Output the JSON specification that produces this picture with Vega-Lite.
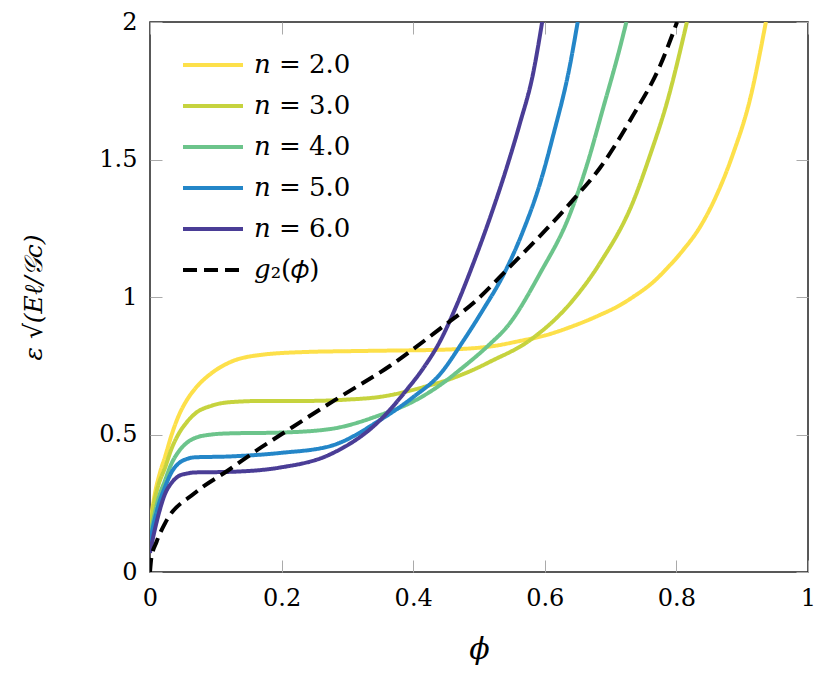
{
  "$schema": "https://vega.github.io/schema/vega-lite/v6.json",
  "width": 658,
  "height": 550,
  "autosize": {"type": "none"},
  "padding": {"left": 150, "top": 22, "right": 23, "bottom": 104},
  "config": {
    "font": "DejaVu Serif",
    "view": {"stroke": "#222222", "strokeWidth": 1.5}
  },
  "data": {
    "values": [
      {"s": "n2", "phi": 0, "v": 0.17},
      {"s": "n2", "phi": 0.0076, "v": 0.287},
      {"s": "n2", "phi": 0.015, "v": 0.36},
      {"s": "n2", "phi": 0.023, "v": 0.42},
      {"s": "n2", "phi": 0.033, "v": 0.5},
      {"s": "n2", "phi": 0.043, "v": 0.565},
      {"s": "n2", "phi": 0.056, "v": 0.625},
      {"s": "n2", "phi": 0.068, "v": 0.665},
      {"s": "n2", "phi": 0.094, "v": 0.724},
      {"s": "n2", "phi": 0.119, "v": 0.76},
      {"s": "n2", "phi": 0.17, "v": 0.79},
      {"s": "n2", "phi": 0.236, "v": 0.8},
      {"s": "n2", "phi": 0.3, "v": 0.803},
      {"s": "n2", "phi": 0.36, "v": 0.805},
      {"s": "n2", "phi": 0.44, "v": 0.808},
      {"s": "n2", "phi": 0.517, "v": 0.82},
      {"s": "n2", "phi": 0.562, "v": 0.84},
      {"s": "n2", "phi": 0.6, "v": 0.86},
      {"s": "n2", "phi": 0.638, "v": 0.89},
      {"s": "n2", "phi": 0.684, "v": 0.935},
      {"s": "n2", "phi": 0.714, "v": 0.97},
      {"s": "n2", "phi": 0.734, "v": 1.0},
      {"s": "n2", "phi": 0.765, "v": 1.055},
      {"s": "n2", "phi": 0.786, "v": 1.105},
      {"s": "n2", "phi": 0.81, "v": 1.17},
      {"s": "n2", "phi": 0.836, "v": 1.255},
      {"s": "n2", "phi": 0.861, "v": 1.37},
      {"s": "n2", "phi": 0.886, "v": 1.52},
      {"s": "n2", "phi": 0.912, "v": 1.72},
      {"s": "n2", "phi": 0.936, "v": 2.0},

      {"s": "n3", "phi": 0, "v": 0.15},
      {"s": "n3", "phi": 0.006, "v": 0.25},
      {"s": "n3", "phi": 0.012, "v": 0.31},
      {"s": "n3", "phi": 0.023, "v": 0.38},
      {"s": "n3", "phi": 0.033, "v": 0.45},
      {"s": "n3", "phi": 0.043, "v": 0.5},
      {"s": "n3", "phi": 0.056, "v": 0.545},
      {"s": "n3", "phi": 0.068, "v": 0.575},
      {"s": "n3", "phi": 0.094, "v": 0.605},
      {"s": "n3", "phi": 0.119, "v": 0.617},
      {"s": "n3", "phi": 0.17, "v": 0.622},
      {"s": "n3", "phi": 0.236, "v": 0.622},
      {"s": "n3", "phi": 0.3, "v": 0.627},
      {"s": "n3", "phi": 0.35, "v": 0.637},
      {"s": "n3", "phi": 0.415, "v": 0.672},
      {"s": "n3", "phi": 0.46, "v": 0.705},
      {"s": "n3", "phi": 0.491, "v": 0.735},
      {"s": "n3", "phi": 0.517, "v": 0.765},
      {"s": "n3", "phi": 0.578, "v": 0.844},
      {"s": "n3", "phi": 0.643, "v": 0.989},
      {"s": "n3", "phi": 0.684, "v": 1.124},
      {"s": "n3", "phi": 0.734, "v": 1.345},
      {"s": "n3", "phi": 0.76, "v": 1.516},
      {"s": "n3", "phi": 0.786, "v": 1.71},
      {"s": "n3", "phi": 0.816, "v": 2.0},

      {"s": "n4", "phi": 0, "v": 0.13},
      {"s": "n4", "phi": 0.006, "v": 0.2},
      {"s": "n4", "phi": 0.012, "v": 0.26},
      {"s": "n4", "phi": 0.023, "v": 0.334},
      {"s": "n4", "phi": 0.033, "v": 0.396},
      {"s": "n4", "phi": 0.043, "v": 0.436},
      {"s": "n4", "phi": 0.056, "v": 0.47},
      {"s": "n4", "phi": 0.068, "v": 0.487},
      {"s": "n4", "phi": 0.094, "v": 0.5},
      {"s": "n4", "phi": 0.119, "v": 0.504},
      {"s": "n4", "phi": 0.198, "v": 0.507},
      {"s": "n4", "phi": 0.274, "v": 0.52},
      {"s": "n4", "phi": 0.35, "v": 0.571},
      {"s": "n4", "phi": 0.4, "v": 0.62},
      {"s": "n4", "phi": 0.441, "v": 0.68},
      {"s": "n4", "phi": 0.476, "v": 0.745},
      {"s": "n4", "phi": 0.517, "v": 0.83},
      {"s": "n4", "phi": 0.542, "v": 0.89},
      {"s": "n4", "phi": 0.593, "v": 1.087},
      {"s": "n4", "phi": 0.638, "v": 1.3},
      {"s": "n4", "phi": 0.664, "v": 1.48},
      {"s": "n4", "phi": 0.689, "v": 1.69},
      {"s": "n4", "phi": 0.714, "v": 1.905},
      {"s": "n4", "phi": 0.724, "v": 2.0},

      {"s": "n5", "phi": 0, "v": 0.11},
      {"s": "n5", "phi": 0.006, "v": 0.18},
      {"s": "n5", "phi": 0.012, "v": 0.236},
      {"s": "n5", "phi": 0.023, "v": 0.31},
      {"s": "n5", "phi": 0.033, "v": 0.364},
      {"s": "n5", "phi": 0.043, "v": 0.394},
      {"s": "n5", "phi": 0.056, "v": 0.411},
      {"s": "n5", "phi": 0.068, "v": 0.417},
      {"s": "n5", "phi": 0.119, "v": 0.42},
      {"s": "n5", "phi": 0.198, "v": 0.433},
      {"s": "n5", "phi": 0.274, "v": 0.458},
      {"s": "n5", "phi": 0.35, "v": 0.553},
      {"s": "n5", "phi": 0.4, "v": 0.636},
      {"s": "n5", "phi": 0.441, "v": 0.72},
      {"s": "n5", "phi": 0.476, "v": 0.84},
      {"s": "n5", "phi": 0.506, "v": 0.953},
      {"s": "n5", "phi": 0.537, "v": 1.08},
      {"s": "n5", "phi": 0.567, "v": 1.24},
      {"s": "n5", "phi": 0.593, "v": 1.415},
      {"s": "n5", "phi": 0.613, "v": 1.59},
      {"s": "n5", "phi": 0.638, "v": 1.84},
      {"s": "n5", "phi": 0.65, "v": 2.0},

      {"s": "n6", "phi": 0, "v": 0.07},
      {"s": "n6", "phi": 0.006, "v": 0.14},
      {"s": "n6", "phi": 0.012, "v": 0.2},
      {"s": "n6", "phi": 0.023, "v": 0.285},
      {"s": "n6", "phi": 0.033, "v": 0.325},
      {"s": "n6", "phi": 0.043, "v": 0.348},
      {"s": "n6", "phi": 0.056, "v": 0.358},
      {"s": "n6", "phi": 0.068, "v": 0.362},
      {"s": "n6", "phi": 0.119, "v": 0.364},
      {"s": "n6", "phi": 0.198, "v": 0.38},
      {"s": "n6", "phi": 0.274, "v": 0.428},
      {"s": "n6", "phi": 0.35, "v": 0.553},
      {"s": "n6", "phi": 0.39, "v": 0.662},
      {"s": "n6", "phi": 0.415, "v": 0.74},
      {"s": "n6", "phi": 0.441, "v": 0.84},
      {"s": "n6", "phi": 0.466, "v": 0.97},
      {"s": "n6", "phi": 0.491, "v": 1.12},
      {"s": "n6", "phi": 0.517, "v": 1.29},
      {"s": "n6", "phi": 0.542, "v": 1.47},
      {"s": "n6", "phi": 0.562, "v": 1.63},
      {"s": "n6", "phi": 0.582, "v": 1.81},
      {"s": "n6", "phi": 0.596, "v": 2.0},

      {"s": "g2", "phi": 0, "v": 0.0},
      {"s": "g2", "phi": 0.002, "v": 0.05},
      {"s": "g2", "phi": 0.01, "v": 0.11},
      {"s": "g2", "phi": 0.023, "v": 0.178},
      {"s": "g2", "phi": 0.068, "v": 0.287},
      {"s": "g2", "phi": 0.119, "v": 0.37},
      {"s": "g2", "phi": 0.17, "v": 0.455},
      {"s": "g2", "phi": 0.198, "v": 0.498},
      {"s": "g2", "phi": 0.236, "v": 0.557},
      {"s": "g2", "phi": 0.289, "v": 0.637},
      {"s": "g2", "phi": 0.365, "v": 0.75},
      {"s": "g2", "phi": 0.441, "v": 0.885},
      {"s": "g2", "phi": 0.497, "v": 0.99},
      {"s": "g2", "phi": 0.542, "v": 1.098},
      {"s": "g2", "phi": 0.643, "v": 1.353},
      {"s": "g2", "phi": 0.684, "v": 1.47},
      {"s": "g2", "phi": 0.734, "v": 1.66},
      {"s": "g2", "phi": 0.775, "v": 1.84},
      {"s": "g2", "phi": 0.801, "v": 2.0}
    ]
  },
  "layer": [
    {
      "mark": {"type": "line", "strokeWidth": 4, "clip": true, "interpolate": "monotone"},
      "encoding": {
        "x": {
          "field": "phi", "type": "quantitative",
          "scale": {"domain": [0, 1], "nice": false, "zero": false},
          "axis": {
            "orient": "bottom", "values": [0, 0.2, 0.4, 0.6, 0.8, 1], "format": "~g", "labelFlush": false,
            "grid": false, "domain": false, "tickSize": -12, "tickColor": "#aaaaaa", "tickWidth": 1,
            "labelFont": "DejaVu Serif", "labelFontSize": 24, "labelColor": "#000000", "labelPadding": 26,
            "title": "ϕ", "titleFont": "DejaVu Serif", "titleFontSize": 30, "titleFontStyle": "italic",
            "titleFontWeight": "normal", "titleColor": "#000000", "titlePadding": 24
          }
        },
        "y": {
          "field": "v", "type": "quantitative",
          "scale": {"domain": [0, 2], "nice": false, "zero": false},
          "axis": {
            "orient": "left", "values": [0, 0.5, 1, 1.5, 2], "format": "~g", "labelFlush": false,
            "grid": false, "domain": false, "tickSize": -12, "tickColor": "#aaaaaa", "tickWidth": 1,
            "labelFont": "DejaVu Serif", "labelFontSize": 24, "labelColor": "#000000", "labelPadding": 25,
            "title": "ε √(Eℓ/𝒢c)", "titleFont": "DejaVu Serif", "titleFontSize": 25, "titleFontStyle": "italic",
            "titleFontWeight": "normal", "titleColor": "#000000", "titlePadding": 52
          }
        },
        "color": {
          "field": "s", "type": "nominal",
          "scale": {
            "domain": ["n2", "n3", "n4", "n5", "n6", "g2"],
            "range": ["#fde04a", "#c6d33e", "#6cc48b", "#2486c8", "#4a3d96", "#000000"]
          },
          "legend": {
            "orient": "none", "legendX": 49, "legendY": 29, "title": null, "padding": 0,
            "symbolType": "M-2.5,0H2.5", "symbolSize": 576, "symbolStrokeWidth": 4,
            "labelFont": "DejaVu Serif", "labelFontSize": 26, "labelColor": "#000000", "labelOffset": 27,
            "rowPadding": 14, "labelLimit": 300,
            "labelExpr": "datum.value == 'g2' ? '𝑔₂(𝜙)' : '𝑛 = ' + slice(datum.value, 1) + '.0'"
          }
        },
        "strokeDash": {
          "field": "s", "type": "nominal",
          "scale": {
            "domain": ["n2", "n3", "n4", "n5", "n6", "g2"],
            "range": [[1, 0], [1, 0], [1, 0], [1, 0], [1, 0], [14, 7]]
          },
          "legend": {
            "orient": "none", "legendX": 49, "legendY": 29, "title": null, "padding": 0,
            "symbolType": "M-2.5,0H2.5", "symbolSize": 576, "symbolStrokeWidth": 4,
            "labelFont": "DejaVu Serif", "labelFontSize": 26, "labelColor": "#000000", "labelOffset": 27,
            "rowPadding": 14, "labelLimit": 300,
            "labelExpr": "datum.value == 'g2' ? '𝑔₂(𝜙)' : '𝑛 = ' + slice(datum.value, 1) + '.0'"
          }
        }
      }
    },
    {
      "mark": {"type": "point", "opacity": 0},
      "encoding": {
        "x": {
          "field": "phi", "type": "quantitative",
          "axis": {
            "orient": "top", "values": [0, 0.2, 0.4, 0.6, 0.8, 1], "labels": false, "title": null,
            "grid": false, "domain": false, "tickSize": -12, "tickColor": "#aaaaaa", "tickWidth": 1
          }
        },
        "y": {
          "field": "v", "type": "quantitative",
          "axis": {
            "orient": "right", "values": [0, 0.5, 1, 1.5, 2], "labels": false, "title": null,
            "grid": false, "domain": false, "tickSize": -12, "tickColor": "#aaaaaa", "tickWidth": 1
          }
        }
      }
    }
  ],
  "resolve": {"axis": {"x": "independent", "y": "independent"}}
}
